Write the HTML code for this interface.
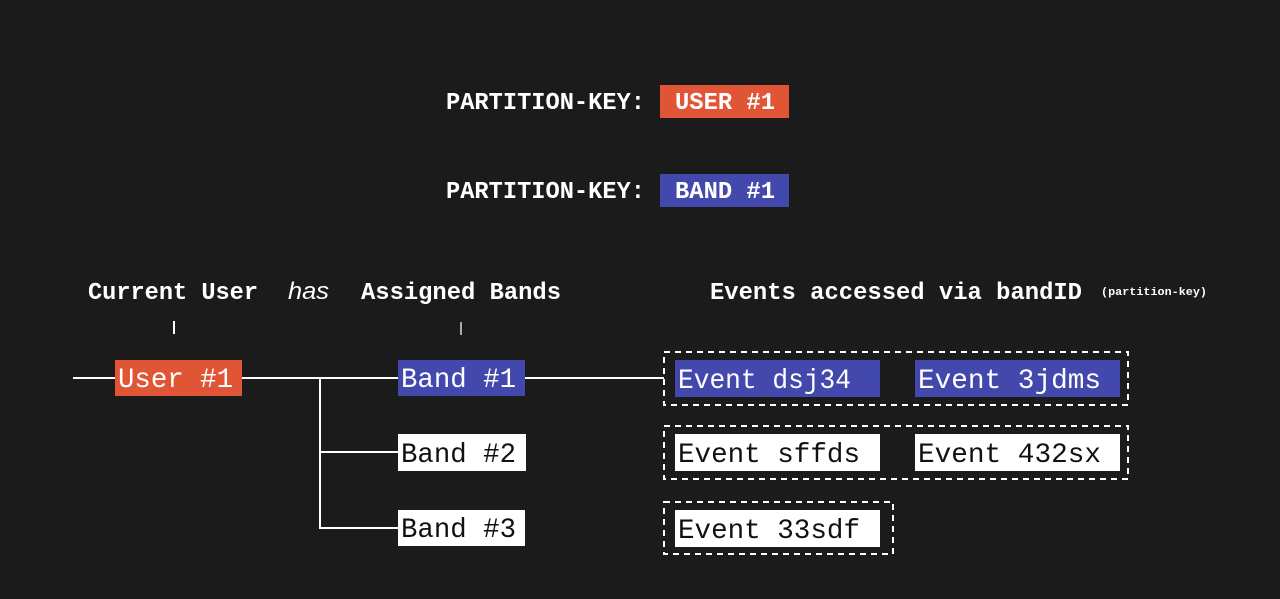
<!DOCTYPE html>
<html><head><meta charset="utf-8"><style>
html,body{margin:0;padding:0;background:#1b1b1b;width:1280px;height:599px;overflow:hidden}
svg{display:block}
text{font-family:"Liberation Mono",monospace}
.b{font-weight:bold;fill:#fff;font-size:24px}
.n{font-size:28px}
</style></head><body>
<svg width="1280" height="599" viewBox="0 0 1280 599">
<rect width="1280" height="599" fill="#1b1b1b"/>
<!-- partition keys -->
<text class="b" x="446" y="109" textLength="199" lengthAdjust="spacingAndGlyphs">PARTITION-KEY:</text>
<rect x="660" y="85" width="129" height="33" fill="#e05535"/>
<text class="b" x="675" y="109" textLength="100" lengthAdjust="spacingAndGlyphs">USER #1</text>
<text class="b" x="446" y="198" textLength="199" lengthAdjust="spacingAndGlyphs">PARTITION-KEY:</text>
<rect x="660" y="174" width="129" height="33" fill="#4348ad"/>
<text class="b" x="675" y="198" textLength="100" lengthAdjust="spacingAndGlyphs">BAND #1</text>
<!-- headers -->
<text class="b" x="88" y="299" textLength="170" lengthAdjust="spacingAndGlyphs">Current User</text>
<text x="288" y="299" fill="#fff" font-size="24" font-style="italic" style="font-family:'Liberation Sans',sans-serif" textLength="41" lengthAdjust="spacingAndGlyphs">has</text>
<text class="b" x="361" y="299" textLength="200" lengthAdjust="spacingAndGlyphs">Assigned Bands</text>
<text class="b" x="710" y="299" textLength="372" lengthAdjust="spacingAndGlyphs">Events accessed via bandID</text>
<text x="1101" y="295" fill="#fff" font-size="11" font-weight="bold" textLength="106" lengthAdjust="spacingAndGlyphs">(partition-key)</text>
<!-- ticks -->
<line x1="174" y1="321" x2="174" y2="334" stroke="#fff" stroke-width="2"/>
<line x1="461" y1="322" x2="461" y2="335" stroke="#aaa" stroke-width="2"/>
<!-- connectors -->
<g stroke="#fff" stroke-width="2" fill="none">
<line x1="73" y1="378" x2="115" y2="378"/>
<line x1="242" y1="378" x2="398" y2="378"/>
<path d="M320 378 V528 H398"/>
<line x1="320" y1="452" x2="398" y2="452"/>
<line x1="525" y1="378" x2="664" y2="378"/>
</g>
<!-- user / bands -->
<rect x="115" y="360" width="127" height="36" fill="#e05535"/>
<text class="n" x="118" y="387" fill="#fff" textLength="115" lengthAdjust="spacingAndGlyphs">User #1</text>
<rect x="398" y="360" width="127" height="36" fill="#4348ad"/>
<text class="n" x="401" y="387" fill="#fff" textLength="115" lengthAdjust="spacingAndGlyphs">Band #1</text>
<rect x="398" y="434" width="128" height="37" fill="#fff"/>
<text class="n" x="401" y="462" fill="#111" textLength="115" lengthAdjust="spacingAndGlyphs">Band #2</text>
<rect x="398" y="510" width="127" height="36" fill="#fff"/>
<text class="n" x="401" y="537" fill="#111" textLength="115" lengthAdjust="spacingAndGlyphs">Band #3</text>
<!-- dashed groups -->
<g stroke="#fff" stroke-width="2" fill="none" stroke-dasharray="6 5">
<rect x="664" y="352" width="464" height="53"/>
<rect x="664" y="426" width="464" height="53"/>
<rect x="664" y="502" width="229" height="52"/>
</g>
<!-- events -->
<rect x="675" y="360" width="205" height="37" fill="#4348ad"/>
<text class="n" x="678" y="388" fill="#fff" textLength="173" lengthAdjust="spacingAndGlyphs">Event dsj34</text>
<rect x="915" y="360" width="205" height="37" fill="#4348ad"/>
<text class="n" x="918" y="388" fill="#fff" textLength="183" lengthAdjust="spacingAndGlyphs">Event 3jdms</text>
<rect x="675" y="434" width="205" height="37" fill="#fff"/>
<text class="n" x="678" y="462" fill="#111" textLength="182" lengthAdjust="spacingAndGlyphs">Event sffds</text>
<rect x="915" y="434" width="205" height="37" fill="#fff"/>
<text class="n" x="918" y="462" fill="#111" textLength="183" lengthAdjust="spacingAndGlyphs">Event 432sx</text>
<rect x="675" y="510" width="205" height="37" fill="#fff"/>
<text class="n" x="678" y="538" fill="#111" textLength="182" lengthAdjust="spacingAndGlyphs">Event 33sdf</text>
</svg>
</body></html>
